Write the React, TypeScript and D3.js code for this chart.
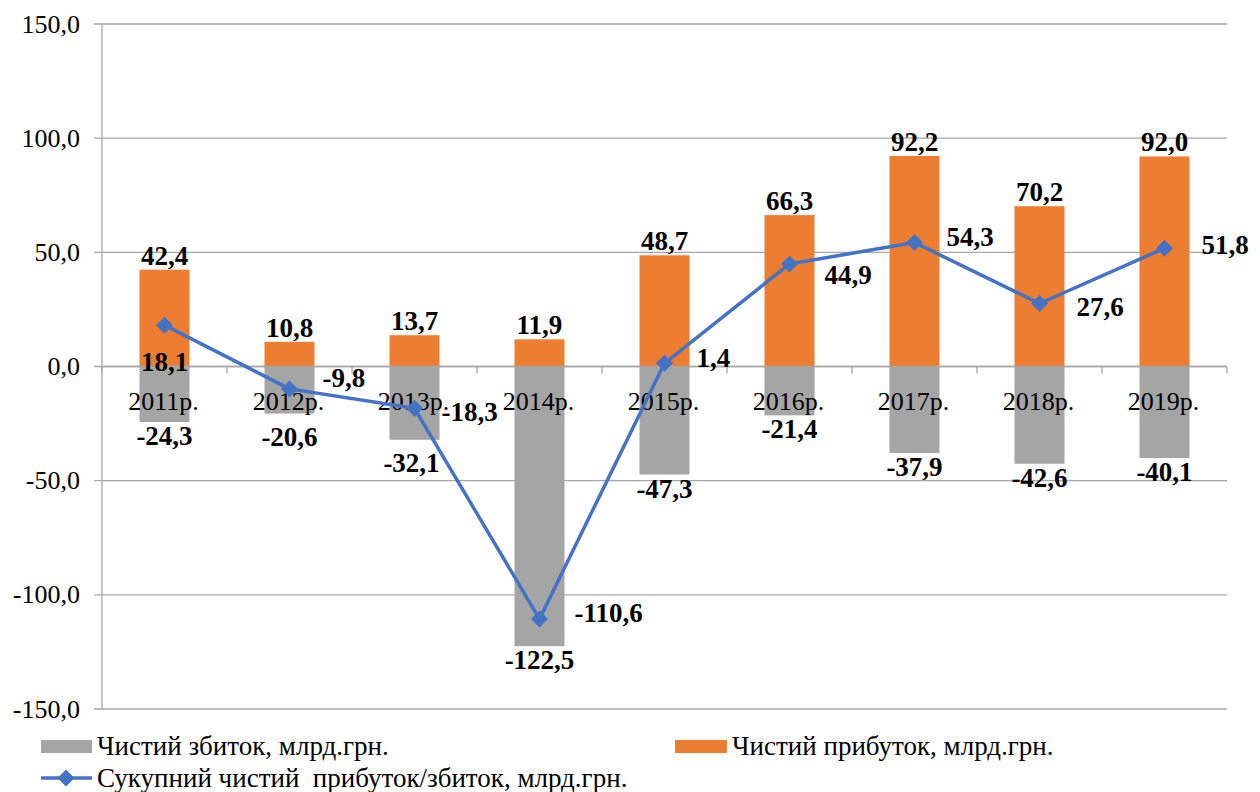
import React from "react";
import * as d3 from "d3";

// Years shown on the category axis
const years = ["2011р.", "2012р.", "2013р.", "2014р.", "2015р.", "2016р.", "2017р.", "2018р.", "2019р."];
// Net profit of profitable enterprises, bn UAH
const profit = [42.4, 10.8, 13.7, 11.9, 48.7, 66.3, 92.2, 70.2, 92.0];
// Net loss of loss-making enterprises, bn UAH
const loss = [-24.3, -20.6, -32.1, -122.5, -47.3, -21.4, -37.9, -42.6, -40.1];
// Aggregate net financial result, bn UAH
const net = [18.1, -9.8, -18.3, -110.6, 1.4, 44.9, 54.3, 27.6, 51.8];
// Value-axis ticks
const yTicks = [-150, -100, -50, 0, 50, 100, 150];

// Hand-placed offsets of the net-result labels relative to their markers [dx, dy, anchor]
const netLabelShift: [number, number, string][] = [
  [0, 37, "middle"],
  [33, -11, "start"],
  [27, 4, "start"],
  [35, -6, "start"],
  [32, -5, "start"],
  [35, 11, "start"],
  [32, -6, "start"],
  [37, 4, "start"],
  [37, -3, "start"],
];
// Extra offsets for loss labels nudged away from the year captions [dx, dy]
const lossLabelShift: [number, number][] = [
  [0, 0],
  [0, 9],
  [-3, 9],
  [0, 0],
  [0, 0],
  [0, 0],
  [0, 0],
  [0, 0],
  [0, 0],
];

const W = 1260;
const H = 792;
const left = 102;
const right = 1227;
const top = 24;
const bottom = 709;

const ORANGE = "#ED7D31";
const GRAY = "#A5A5A5";
const BLUE = "#4472C4";
const GRID = "#A6A6A6";
const FONT = "'Liberation Serif', 'Times New Roman', serif";

const fmt = (v: number) => v.toFixed(1).replace(".", ",");

function T({ x, y, children, anchor = "middle", bold = false, size = 26 }: any) {
  return (
    <text
      x={x}
      y={y}
      textAnchor={anchor}
      fontFamily={FONT}
      fontSize={size}
      fontWeight={bold ? "bold" : "normal"}
      fill="#000"
      style={{ whiteSpace: "pre" }}
    >
      {children}
    </text>
  );
}

function diamond(cx: number, cy: number, r: number) {
  return `M${cx},${cy - r}L${cx + r},${cy}L${cx},${cy + r}L${cx - r},${cy}Z`;
}

export default function App() {
  const x = d3.scaleBand<string>().domain(years).range([left, right]).paddingInner(0.6).paddingOuter(0.3);
  const y = d3.scaleLinear().domain([-150, 150]).range([bottom, top]);
  const step = x.step();
  const bw = x.bandwidth();
  const cx = (i: number) => (x(years[i]) as number) + bw / 2;
  const y0 = y(0);

  const line = d3
    .line<number>()
    .x((_, i) => cx(i))
    .y((d) => y(d));

  const boundaries = d3.range(years.length + 1).map((k) => left + k * step);

  return (
    <svg width={W} height={H} style={{ position: "fixed", left: 0, top: 0, background: "#fff" }}>
      <rect width={W} height={H} fill="#fff" />
      {/* gridlines and value labels */}
      {yTicks.map((t) => (
        <g key={t}>
          <line x1={left - 8} x2={right} y1={y(t)} y2={y(t)} stroke={GRID} strokeWidth={1.3} />
          <T x={80} y={y(t) + 8.5} anchor="end">
            {fmt(t)}
          </T>
        </g>
      ))}
      <line x1={left} x2={left} y1={top} y2={bottom} stroke={GRID} strokeWidth={1.3} />

      {/* loss bars */}
      {loss.map((v, i) => (
        <rect key={"l" + i} x={x(years[i])} y={y0} width={bw} height={y(v) - y0} fill={GRAY} />
      ))}
      {/* profit bars */}
      {profit.map((v, i) => (
        <rect key={"p" + i} x={x(years[i])} y={y(v)} width={bw} height={y0 - y(v)} fill={ORANGE} />
      ))}

      {/* category axis */}
      <line x1={left} x2={right} y1={y0} y2={y0} stroke={GRID} strokeWidth={1.3} />
      {boundaries.map((bx, k) => (
        <line key={"t" + k} x1={bx} x2={bx} y1={y0} y2={y0 + 7} stroke={GRID} strokeWidth={1.3} />
      ))}
      {years.map((yr, i) => (
        <T key={yr} x={cx(i) - 1} y={y0 + 43}>
          {yr}
        </T>
      ))}

      {/* bar value labels */}
      {profit.map((v, i) => (
        <T key={"pl" + i} x={cx(i)} y={y(v) - 5} bold size={27}>
          {fmt(v)}
        </T>
      ))}
      {loss.map((v, i) => (
        <T
          key={"ll" + i}
          x={cx(i) + lossLabelShift[i][0]}
          y={y(v) + 23 + lossLabelShift[i][1]}
          bold
          size={27}
        >
          {fmt(v)}
        </T>
      ))}

      {/* aggregate result line */}
      <path d={line(net) as string} fill="none" stroke={BLUE} strokeWidth={3.5} strokeLinejoin="round" />
      {net.map((v, i) => (
        <path key={"m" + i} d={diamond(cx(i), y(v), 8.5)} fill={BLUE} />
      ))}
      {net.map((v, i) => {
        const [dx, dy, a] = netLabelShift[i];
        return (
          <T key={"nl" + i} x={cx(i) + dx} y={y(v) + dy + 9} anchor={a} bold size={27}>
            {fmt(v)}
          </T>
        );
      })}

      {/* legend */}
      <rect x={41} y={740} width={51} height={13} fill={GRAY} />
      <T x={97} y={755} anchor="start" size={27}>
        Чистий збиток, млрд.грн.
      </T>
      <rect x={675} y={740} width={52} height={13} fill={ORANGE} />
      <T x={732} y={755} anchor="start" size={27}>
        Чистий прибуток, млрд.грн.
      </T>
      <line x1={41} x2={92} y1={778} y2={778} stroke={BLUE} strokeWidth={3.5} />
      <path d={diamond(66, 778, 8.5)} fill={BLUE} />
      <T x={97} y={787} anchor="start" size={27}>
        {"Сукупний чистий  прибуток/збиток, млрд.грн."}
      </T>
    </svg>
  );
}
